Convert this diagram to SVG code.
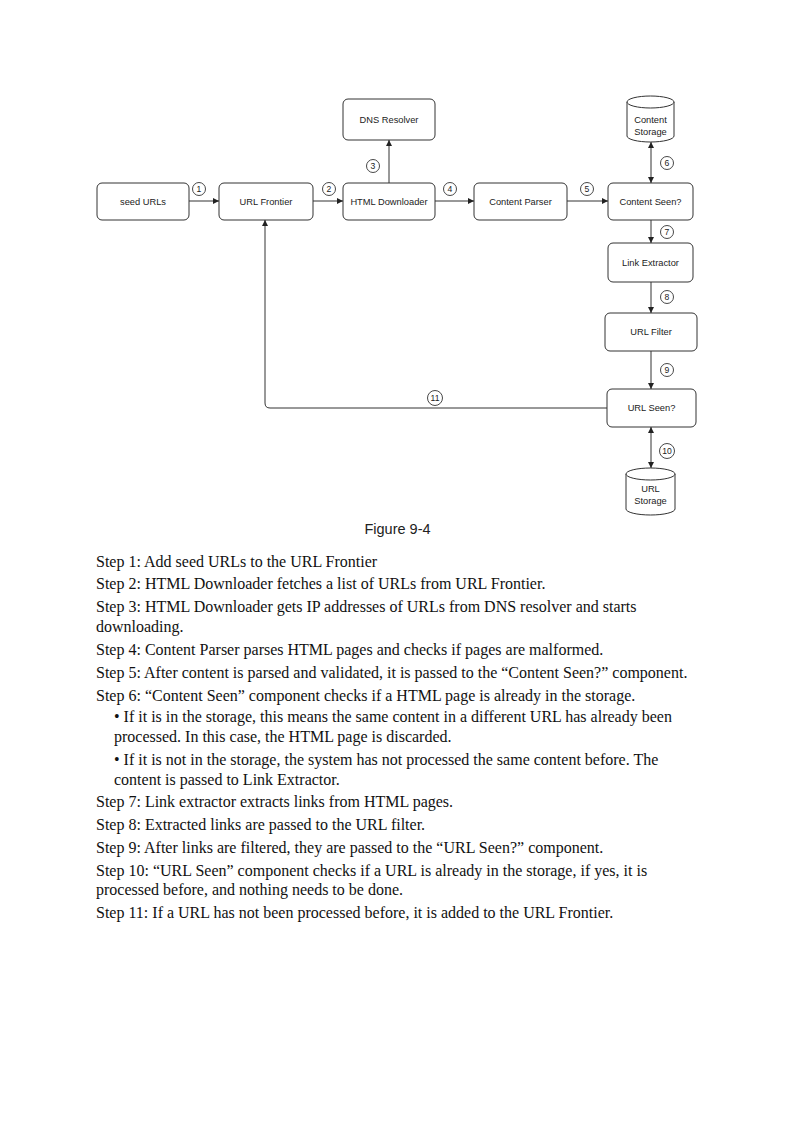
<svg xmlns="http://www.w3.org/2000/svg" width="794" height="1123" viewBox="0 0 794 1123">
<style>
.node rect{fill:#fff;stroke:#333;stroke-width:1}
.cyl{fill:#fff;stroke:#333;stroke-width:1}
.lbl{font-family:"Liberation Sans",Arial,sans-serif;font-size:9.3px;fill:#222;text-anchor:middle}
.edge{fill:none;stroke:#333;stroke-width:1}
.num circle{fill:#fff;stroke:#333;stroke-width:0.9}
.num text{font-family:"Liberation Sans",Arial,sans-serif;font-size:8.6px;fill:#222;text-anchor:middle}
.cap{font-family:"Liberation Sans",Arial,sans-serif;font-size:14.5px;fill:#222;text-anchor:middle}
.body{font-family:"Liberation Serif","Times New Roman",serif;font-size:16px;fill:#111}
</style>
<defs>
<marker id="ah" viewBox="0 0 10 10" refX="10" refY="5" markerWidth="6" markerHeight="6" orient="auto-start-reverse" markerUnits="userSpaceOnUse">
<path d="M0,0 L10,5 L0,10 z" fill="#222"/>
</marker>
</defs>
<rect width="794" height="1123" fill="#fff"/>

<g id="seed-urls" class="node"><rect x="97" y="183" width="92" height="37" rx="5"/><text class="lbl" x="143" y="204.5">seed URLs</text></g>
<g id="url-frontier" class="node"><rect x="219" y="183" width="94" height="37" rx="5"/><text class="lbl" x="266" y="204.5">URL Frontier</text></g>
<g id="html-downloader" class="node"><rect x="343" y="183" width="92" height="37" rx="5"/><text class="lbl" x="389" y="204.5">HTML Downloader</text></g>
<g id="dns-resolver" class="node"><rect x="343" y="99" width="92" height="41" rx="5"/><text class="lbl" x="389" y="123">DNS Resolver</text></g>
<g id="content-parser" class="node"><rect x="474" y="183" width="93" height="37" rx="5"/><text class="lbl" x="520.5" y="204.5">Content Parser</text></g>
<g id="content-seen" class="node"><rect x="608" y="183" width="85" height="37" rx="5"/><text class="lbl" x="650.5" y="204.5">Content Seen?</text></g>
<g id="content-storage">
<path class="cyl" d="M627,102 A23.5,6 0 0 1 674,102 L674,136 A23.5,6 0 0 1 627,136 Z"/>
<path class="cyl" d="M627,102 A23.5,6 0 0 0 674,102" fill="none"/>
<text class="lbl" x="650.5" y="123">Content</text><text class="lbl" x="650.5" y="135">Storage</text>
</g>
<g id="link-extractor" class="node"><rect x="608" y="243" width="85" height="39" rx="5"/><text class="lbl" x="650.5" y="265.5">Link Extractor</text></g>
<g id="url-filter" class="node"><rect x="605" y="313" width="92" height="38" rx="5"/><text class="lbl" x="651" y="335">URL Filter</text></g>
<g id="url-seen" class="node"><rect x="607" y="389" width="89" height="38" rx="5"/><text class="lbl" x="651.5" y="411">URL Seen?</text></g>
<g id="url-storage">
<path class="cyl" d="M626,474 A24.5,6 0 0 1 675,474 L675,509 A24.5,6 0 0 1 626,509 Z"/>
<path class="cyl" d="M626,474 A24.5,6 0 0 0 675,474" fill="none"/>
<text class="lbl" x="650.5" y="492">URL</text><text class="lbl" x="650.5" y="504">Storage</text>
</g>

<g id="connectors">
<line class="edge" x1="189" y1="201" x2="219" y2="201" marker-end="url(#ah)"/>
<line class="edge" x1="313" y1="201" x2="343" y2="201" marker-end="url(#ah)"/>
<line class="edge" x1="389" y1="183" x2="389" y2="140" marker-end="url(#ah)"/>
<line class="edge" x1="435" y1="201" x2="474" y2="201" marker-end="url(#ah)"/>
<line class="edge" x1="567" y1="201" x2="608" y2="201" marker-end="url(#ah)"/>
<line class="edge" x1="651" y1="142" x2="651" y2="183" marker-start="url(#ah)" marker-end="url(#ah)"/>
<line class="edge" x1="651" y1="220" x2="651" y2="243" marker-end="url(#ah)"/>
<line class="edge" x1="651" y1="282" x2="651" y2="313" marker-end="url(#ah)"/>
<line class="edge" x1="651" y1="351" x2="651" y2="389" marker-end="url(#ah)"/>
<line class="edge" x1="651" y1="427" x2="651" y2="468" marker-start="url(#ah)" marker-end="url(#ah)"/>
<path class="edge" d="M607,408 L270,408 Q265,408 265,403 L265,220" marker-end="url(#ah)"/>
<g class="num">
<circle cx="199" cy="189" r="6.5"/><text x="199" y="192">1</text>
<circle cx="329" cy="189" r="6.5"/><text x="329" y="192">2</text>
<circle cx="373" cy="166" r="6.5"/><text x="373" y="169">3</text>
<circle cx="450" cy="189" r="6.5"/><text x="450" y="192">4</text>
<circle cx="587" cy="189" r="6.5"/><text x="587" y="192">5</text>
<circle cx="667" cy="163" r="6.5"/><text x="667" y="166">6</text>
<circle cx="667" cy="232" r="6.5"/><text x="667" y="235">7</text>
<circle cx="667" cy="297" r="6.5"/><text x="667" y="300">8</text>
<circle cx="667" cy="370" r="6.5"/><text x="667" y="373">9</text>
<circle cx="667" cy="451" r="7.5"/><text x="667" y="454">10</text>
<circle cx="435" cy="398" r="7.5"/><text x="435" y="401">11</text>
</g>
</g>

<text class="cap" x="397.5" y="534">Figure 9-4</text>

<g class="body">
<text x="96" y="567">Step 1: Add seed URLs to the URL Frontier</text>
<text x="96" y="589">Step 2: HTML Downloader fetches a list of URLs from URL Frontier.</text>
<text x="96" y="612">Step 3: HTML Downloader gets IP addresses of URLs from DNS resolver and starts</text>
<text x="96" y="632">downloading.</text>
<text x="96" y="655">Step 4: Content Parser parses HTML pages and checks if pages are malformed.</text>
<text x="96" y="678">Step 5: After content is parsed and validated, it is passed to the “Content Seen?” component.</text>
<text x="96" y="701">Step 6: “Content Seen” component checks if a HTML page is already in the storage.</text>
<text x="114" y="722">• If it is in the storage, this means the same content in a different URL has already been</text>
<text x="114" y="742">processed. In this case, the HTML page is discarded.</text>
<text x="114" y="765">• If it is not in the storage, the system has not processed the same content before. The</text>
<text x="114" y="785">content is passed to Link Extractor.</text>
<text x="96" y="807">Step 7: Link extractor extracts links from HTML pages.</text>
<text x="96" y="830">Step 8: Extracted links are passed to the URL filter.</text>
<text x="96" y="853">Step 9: After links are filtered, they are passed to the “URL Seen?” component.</text>
<text x="96" y="876">Step 10: “URL Seen” component checks if a URL is already in the storage, if yes, it is</text>
<text x="96" y="895">processed before, and nothing needs to be done.</text>
<text x="96" y="918">Step 11: If a URL has not been processed before, it is added to the URL Frontier.</text>
</g>
</svg>
